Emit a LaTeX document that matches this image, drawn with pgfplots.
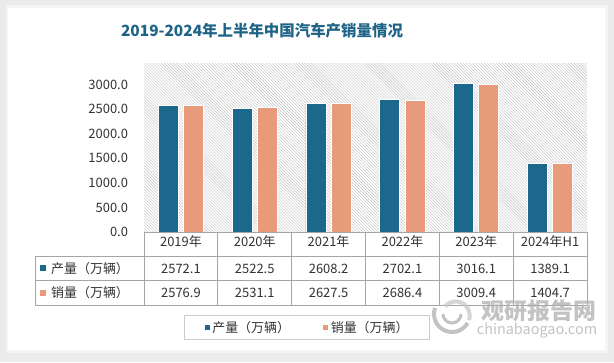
\documentclass[border=0pt]{standalone}
\usepackage{fontspec}
\setmainfont{Noto Sans CJK SC}
\usepackage{pgfplots}
\pgfplotsset{compat=1.18}
\usepackage{pgfplotstable}
\usetikzlibrary{patterns}
\definecolor{cblue}{RGB}{28,104,140}
\definecolor{csalmon}{RGB}{232,155,122}
\definecolor{ctitle}{RGB}{30,100,135}
\definecolor{ctext}{RGB}{50,50,50}
\definecolor{cgrid}{RGB}{165,165,165}
\definecolor{cwm}{RGB}{175,175,175}

\pgfplotstableread{
x label prod sales
0 2019年 2572.1 2576.9
1 2020年 2522.5 2531.1
2 2021年 2608.2 2627.5
3 2022年 2702.1 2686.4
4 2023年 3016.1 3009.4
5 2024年H1 1389.1 1404.7
}\data

\begin{document}
\begin{tikzpicture}[x=1bp,y=1bp]
% background and card
\fill[black!8] (0,0) rectangle (614,362);
\fill[black!4] (6,9) rectangle (608,357);
\fill[white] (8,12) rectangle (605,354);
% title
\node[font=\fontsize{15.5}{18}\selectfont\bfseries, text=ctitle] at (262,331) {2019-2024年上半年中国汽车产销量情况};

\begin{axis}[
  at={(144bp,130bp)}, anchor=south west,
  scale only axis, width=443bp, height=168bp,
  xmin=-0.5, xmax=5.5, ymin=0, ymax=3420,
  clip=false,
  axis line style={draw=none},
  major tick length=0pt,
  axis background/.style={pattern=north west lines, pattern color=black!24},
  xtick={0,1,2,3,4,5},
  xticklabels from table={\data}{label},
  xticklabel style={anchor=base, yshift=-14.5bp, font=\fontsize{13}{15}\selectfont, text=ctext},
  ytick={0,500,1000,1500,2000,2500,3000},
  yticklabel style={anchor=east, xshift=-12.5bp, font=\fontsize{13}{15}\selectfont, text=ctext,
    /pgf/number format/.cd, fixed, fixed zerofill, precision=1, 1000 sep={}},
  /pgf/number format/assume math mode=true,
  legend columns=2,
  legend style={at={(0.368,-0.568)}, anchor=center, draw=black!20, line width=0.6bp,
    font=\fontsize{13}{15}\selectfont, text=ctext, inner xsep=19bp, inner ysep=4bp,
    /tikz/every even column/.append style={column sep=30bp}},
  legend image code/.code={\fill[#1] (0bp,-3bp) rectangle (6bp,3bp);},
]
\addplot[ybar, bar width=20bp, bar shift=-12.6bp, fill=cblue, draw=white, line width=0.8bp]
  table[x=x, y=prod]{\data};
\addlegendentry{产量（万辆）}
\addplot[ybar, bar width=20bp, bar shift=12.6bp, fill=csalmon, draw=white, line width=0.8bp]
  table[x=x, y=sales]{\data};
\addlegendentry{销量（万辆）}
% table values
\addplot[draw=none, mark=none, forget plot, nodes near coords, point meta=explicit symbolic,
  nodes near coords style={anchor=base, yshift=-41bp, font=\fontsize{13}{15}\selectfont, text=ctext, inner sep=0pt}]
  table[x=x, y expr=0, meta=prod]{\data};
\addplot[draw=none, mark=none, forget plot, nodes near coords, point meta=explicit symbolic,
  nodes near coords style={anchor=base, yshift=-65.5bp, font=\fontsize{13}{15}\selectfont, text=ctext, inner sep=0pt}]
  table[x=x, y expr=0, meta=sales]{\data};
\end{axis}

% data table grid
\begin{scope}[draw=cgrid, line width=0.8bp]
\draw (144,130) -- (587,130);
\draw (35,106) -- (587,106);
\draw (35,82) -- (587,82);
\draw (35,57) -- (587,57);
\draw (35,106) -- (35,57);
\foreach \k in {0,...,6} { \draw ({144+73.83*\k},130) -- ({144+73.83*\k},57); }
\end{scope}
% row labels
\fill[cblue] (40,91) rectangle (46,97);
\node[anchor=base west, inner sep=0pt, font=\fontsize{13}{15}\selectfont, text=ctext] at (51,89) {产量（万辆）};
\fill[csalmon] (40,66) rectangle (46,72);
\node[anchor=base west, inner sep=0pt, font=\fontsize{13}{15}\selectfont, text=ctext] at (51,64.5) {销量（万辆）};

% watermark
\begin{scope}[opacity=0.75]
\draw[cwm, line width=4bp] (452,48) ++(160:18) arc (160:330:18);
\draw[cwm!70, line width=4bp] (452,48) ++(-20:18) arc (-20:140:14);
\draw[cwm, line width=3bp] (452,48) ++(180:9) arc (180:360:9);
\node[font=\fontsize{23}{26}\selectfont\bfseries, text=cwm] at (539,51) {观研报告网};
\node[font=\fontsize{14.5}{16}\selectfont, text=cwm] at (537,31) {chinabaogao.com};
\end{scope}
\end{tikzpicture}
\end{document}
